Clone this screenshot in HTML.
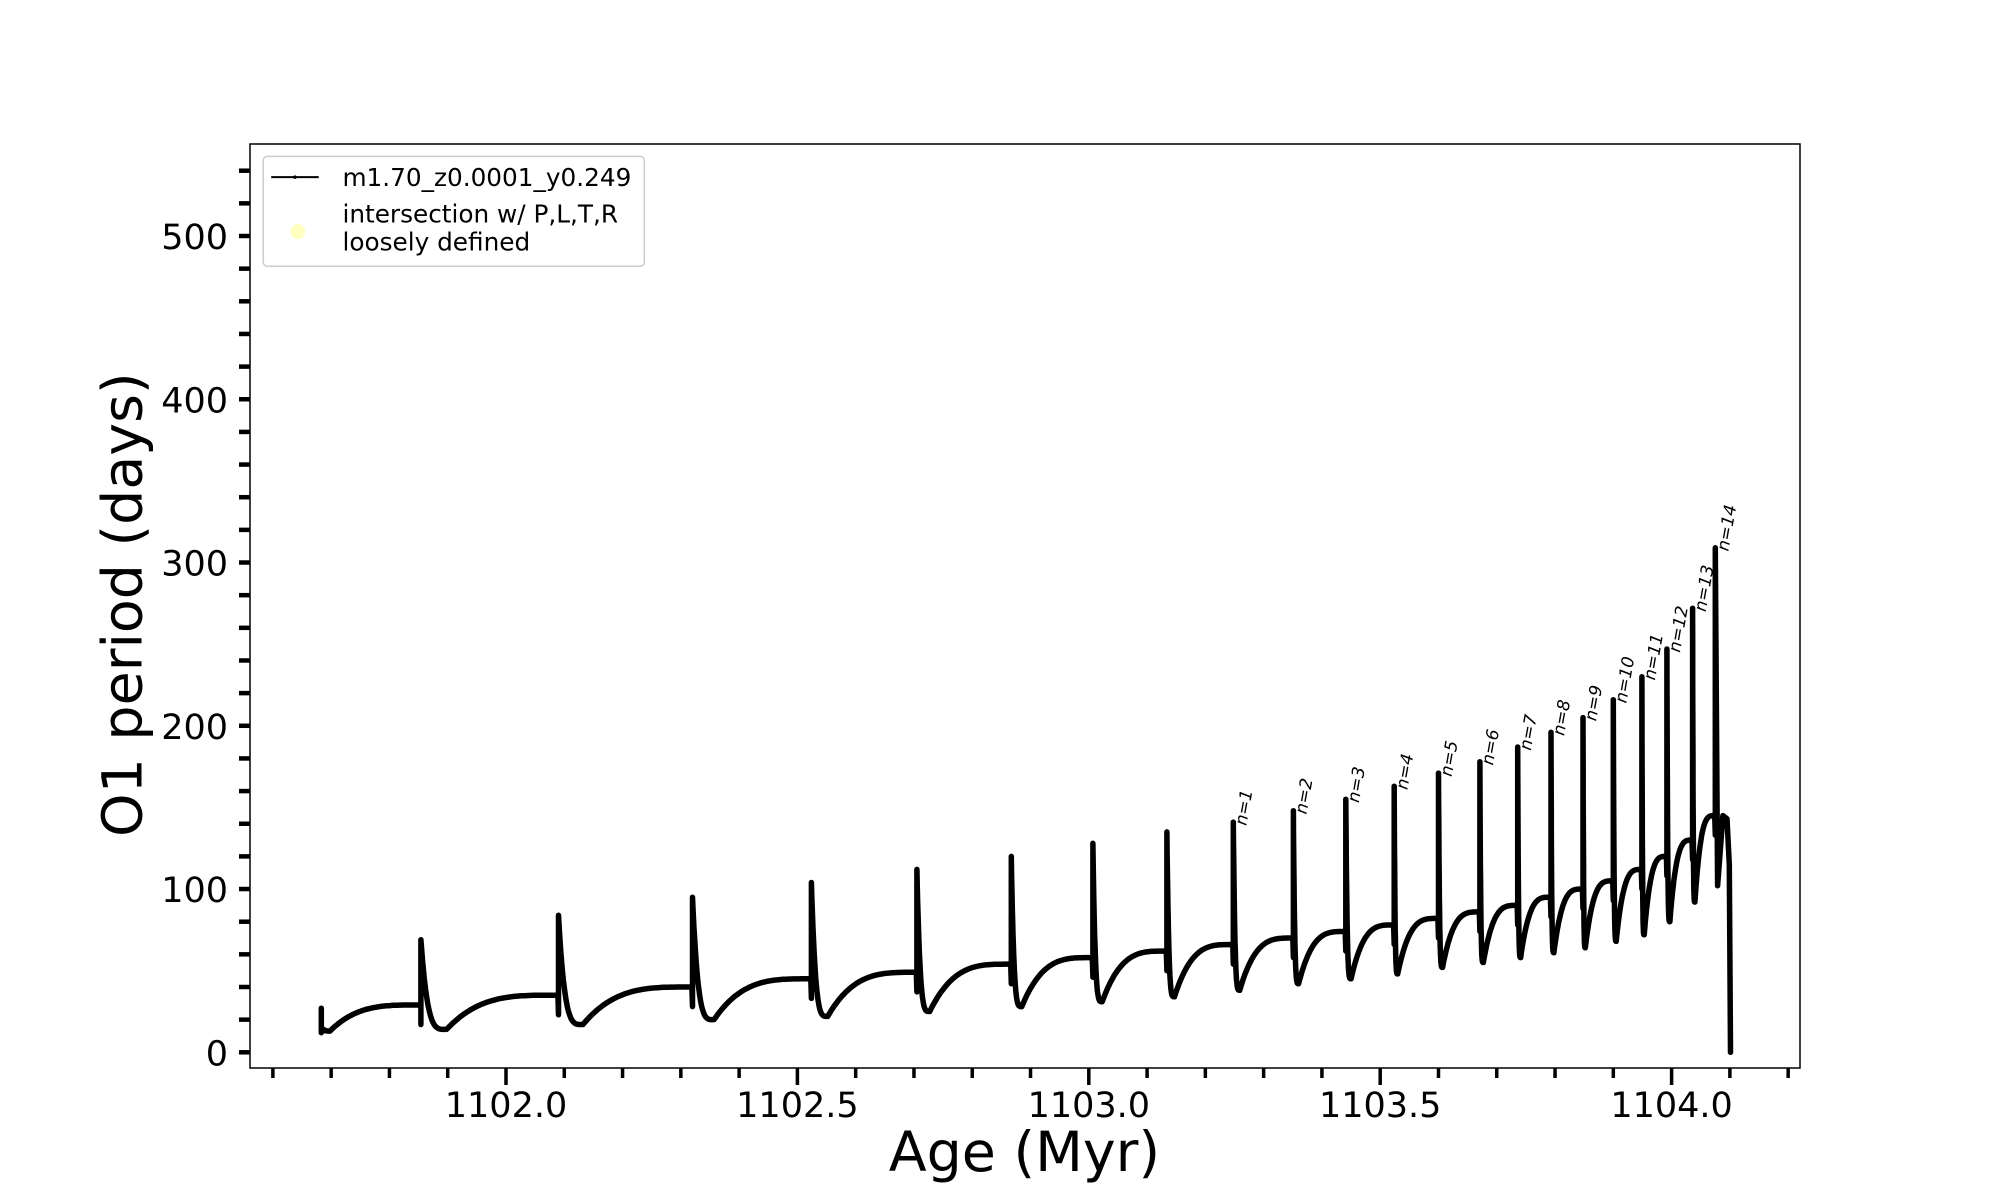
<!DOCTYPE html>
<html><head><meta charset="utf-8"><style>
html,body{margin:0;padding:0;background:#fff;}
svg{display:block;font-family:"DejaVu Sans","Liberation Sans",sans-serif;}
</style></head><body>
<svg id="chart" width="2000" height="1200" viewBox="0 0 2000 1200">
<rect x="0" y="0" width="2000" height="1200" fill="#fff"/>
<g id="plot"></g>
<g id="axes"></g>
<g transform="scale(0.98976)">
<text x="1035" y="1183" font-size="56" text-anchor="middle">Age (Myr)</text>
<text transform="translate(143,611) rotate(-90)" font-size="56" text-anchor="middle">O1 period (days)</text>
<g>
<rect x="266" y="158" width="385" height="111" rx="4" fill="#fff" stroke="#ccc" stroke-width="1.5"/>
<line x1="274" y1="179" x2="322" y2="179" stroke="#000" stroke-width="2"/>
<circle cx="298" cy="179" r="1.8" fill="#000"/>
<text x="346" y="188" font-size="25">m1.70_z0.0001_y0.249</text>
<circle cx="301" cy="234" r="7.5" fill="#ffffc0"/>
<text x="346" y="225" font-size="25">intersection w/ P,L,T,R</text>
<text x="346" y="253" font-size="25">loosely defined</text>
</g>
</g>
</svg>
<script>
const pulseAge=[1101.854,1102.090,1102.320,1102.524,1102.705,1102.867,1103.007,1103.134,1103.248,1103.351,1103.441,1103.524,1103.600,1103.671,1103.736,1103.793,1103.848,1103.900,1103.949,1103.992,1104.036,1104.075];
const preVal=[29,35,40,45,49,54,58,62,66,70,74,78,82,86,90,95,100,105,112,120,130,145];
const peakVal=[69,84,95,104,112,120,128,135,141,148,155,163,171,178,187,196,205,216,230,247,272,309];
const dipAge=[1101.898,1102.132,1102.357,1102.552,1102.727,1102.885,1103.023,1103.147,1103.259,1103.360,1103.450,1103.530,1103.607,1103.677,1103.741,1103.798,1103.852,1103.905,1103.953,1103.997,1104.040];
const dipVal=[14,17,20,22,25,28,31,34,38,42,45,48,52,55,58,61,64,68,72,80,92];
const startAge=1101.683, startVal=25, firstDipAge=1101.698, firstDipVal=13;
const endAges=[1104.079,1104.088,1104.095,1104.099,1104.101];
const endVals=[102,145,143,115,0];
const xTicks=[1102.0,1102.5,1103.0,1103.5,1104.0];
const xTickLabels=["1102.0","1102.5","1103.0","1103.5","1104.0"];
const yTicks=[0,100,200,300,400,500];
const yTickLabels=["0","100","200","300","400","500"];
const nLabels=["n=1","n=2","n=3","n=4","n=5","n=6","n=7","n=8","n=9","n=10","n=11","n=12","n=13","n=14"];

const X0=250,X1=1800,Y0=144,Y1=1068;
function sx(a){return 506+(a-1102.0)*582.8;}
function sy(v){return 1052.3-v*1.6326;}
const NS="http://www.w3.org/2000/svg";
const plot=document.getElementById('plot'), axes=document.getElementById('axes');
function mk(tag,attrs,parent){const e=document.createElementNS(NS,tag);for(const k in attrs)e.setAttribute(k,attrs[k]);parent.appendChild(e);return e;}

let pts=[];
pts.push([startAge,startVal+2]);pts.push([startAge,startVal-13]);pts.push([startAge+0.004,startVal-11]);
function rise(a0,v0,a1,v1){const n=50;for(let i=1;i<=n;i++){const s=i/n;const f=1-Math.pow(1-s,3.5);pts.push([a0+(a1-a0)*s,v0+(v1-v0)*f]);}}
function fall(a0,v0,a1,v1){const n=30;for(let i=1;i<=n;i++){const s=i/n;const f=1-Math.pow(1-s,4);pts.push([a0+(a1-a0)*s,v0+(v1-v0)*f]);}}
rise(startAge+0.004,startVal-11,firstDipAge,firstDipVal);
rise(firstDipAge,firstDipVal,pulseAge[0],preVal[0]);
for(let i=0;i<pulseAge.length;i++){
  const a=pulseAge[i];
  pts.push([a,preVal[i]-12]);
  pts.push([a,peakVal[i]]);
  if(i<dipAge.length){
    fall(a,peakVal[i],dipAge[i],dipVal[i]);
    if(i+1<pulseAge.length) rise(dipAge[i],dipVal[i],pulseAge[i+1]-0.001,preVal[i+1]);
  }
}
for(let i=0;i<endAges.length;i++)pts.push([endAges[i],endVals[i]]);
const d=pts.map((p,i)=>(i?'L':'M')+sx(p[0]).toFixed(1)+','+sy(p[1]).toFixed(1)).join('');
const path=mk('path',{d:d,fill:'none',stroke:'#000','stroke-width':5.5,'stroke-linejoin':'round','stroke-linecap':'round'},plot);



for(let k=0;k<nLabels.length;k++){
  const i=k+8;const x=sx(pulseAge[i])+13,y=sy(peakVal[i])+4;
  const t=mk('text',{x:0,y:0,'font-size':17,'font-style':'italic',transform:`translate(${x.toFixed(1)},${y.toFixed(1)}) rotate(-80)`},plot);
  t.textContent=nLabels[k];
  
  
}

const fr=mk('rect',{x:X0,y:Y0,width:X1-X0,height:Y1-Y0,fill:'none',stroke:'#000','stroke-width':1.5},axes);


for(let k=16;k<=42;k++){
  const a=k/10+1100;const x=sx(a);const major=xTicks.some(t=>Math.abs(t-a)<1e-6);
  if(x<X0-2||x>X1+2)continue;
  const l=mk('line',{x1:x,y1:Y1,x2:x,y2:Y1+(major?17:10),stroke:'#000','stroke-width':3.5},axes);
  
  
}
xTicks.forEach((t,i)=>{const e=mk('text',{x:sx(t),y:1117,'font-size':35,'text-anchor':'middle'},axes);e.textContent=xTickLabels[i];
  
  });
for(let v=0;v<=540;v+=20){
  const y=sy(v);
  const l=mk('line',{x1:X0-11,y1:y,x2:X0,y2:y,stroke:'#000','stroke-width':4.5},axes);
  
  
}
yTicks.forEach((t,i)=>{const e=mk('text',{x:228,y:sy(t)+13,'font-size':35,'text-anchor':'end'},axes);e.textContent=yTickLabels[i];
  
  });
</script>
</body></html>
